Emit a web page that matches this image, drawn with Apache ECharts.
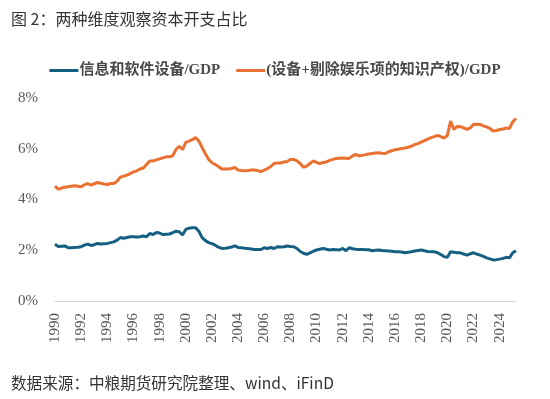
<!DOCTYPE html>
<html>
<head>
<meta charset="utf-8">
<script src="https://cdn.jsdelivr.net/npm/echarts@6/dist/echarts.min.js"></script>
<style>
html, body { margin: 0; padding: 0; background: #ffffff; }
#CapexChart { width: 550px; height: 399px; }
</style>
</head>
<body>
<div id="CapexChart"></div>
<script>
// quarterly, 1990Q1 .. 2025Q2, values in % of GDP
var startYear = 1990;
var pointCount = 142;

var infoSoftware = [
    2.24, 2.15, 2.16, 2.17,  2.10, 2.10, 2.11, 2.12,  2.14, 2.20, 2.24, 2.19,
    2.22, 2.27, 2.25, 2.26,  2.27, 2.30, 2.33, 2.40,  2.50, 2.47, 2.50, 2.53,
    2.53, 2.52, 2.53, 2.56,  2.53, 2.66, 2.62, 2.70,  2.68, 2.62, 2.63, 2.64,
    2.69, 2.75, 2.73, 2.60,  2.82, 2.87, 2.89, 2.89,  2.75, 2.50, 2.38, 2.30,
    2.26, 2.20, 2.12, 2.07,  2.08, 2.10, 2.13, 2.17,  2.11, 2.10, 2.08, 2.07,
    2.05, 2.03, 2.03, 2.03,  2.10, 2.07, 2.11, 2.07,  2.14, 2.13, 2.14, 2.17,
    2.15, 2.14, 2.07, 1.95,  1.88, 1.84, 1.90, 1.96,  2.01, 2.04, 2.07, 2.04,
    2.01, 2.03, 2.02, 2.01,  2.07, 1.98, 2.10, 2.06,  2.04, 2.03, 2.03, 2.02,
    2.02, 1.98, 2.00, 2.01,  1.99, 1.98, 1.97, 1.96,  1.94, 1.94, 1.93, 1.90,
    1.92, 1.94, 1.97, 1.99,  2.01, 1.98, 1.95, 1.94,  1.94, 1.90, 1.83, 1.75,
    1.72, 1.94, 1.92, 1.90,  1.90, 1.85, 1.81, 1.86,  1.90, 1.85, 1.81, 1.76,
    1.70, 1.66, 1.62, 1.63,  1.65, 1.68, 1.72, 1.70,  1.90, 1.98
];

var equipIP = [
    4.53, 4.41, 4.45, 4.48,  4.50, 4.52, 4.54, 4.52,  4.50, 4.58, 4.63, 4.57,
    4.62, 4.67, 4.64, 4.61,  4.59, 4.63, 4.63, 4.72,  4.88, 4.92, 4.96, 5.02,
    5.09, 5.13, 5.20, 5.24,  5.38, 5.52, 5.52, 5.56,  5.60, 5.64, 5.68, 5.68,
    5.72, 5.97, 6.10, 5.97,  6.25, 6.30, 6.36, 6.44,  6.30, 6.05, 5.80, 5.58,
    5.45, 5.38, 5.30, 5.20,  5.20, 5.20, 5.22, 5.26,  5.16, 5.14, 5.13, 5.14,
    5.16, 5.16, 5.14, 5.10,  5.16, 5.22, 5.30, 5.42,  5.44, 5.44, 5.48, 5.50,
    5.58, 5.58, 5.52, 5.42,  5.27, 5.32, 5.42, 5.52,  5.46, 5.42, 5.46, 5.48,
    5.54, 5.58, 5.62, 5.63,  5.64, 5.63, 5.62, 5.72,  5.78, 5.72, 5.74, 5.77,
    5.79, 5.81, 5.83, 5.84,  5.82, 5.81, 5.88, 5.92,  5.96, 5.98, 6.01, 6.03,
    6.06, 6.10, 6.16, 6.20,  6.26, 6.32, 6.38, 6.44,  6.48, 6.53, 6.48, 6.42,
    6.52, 7.09, 6.76, 6.88,  6.87, 6.82, 6.76, 6.82,  6.96, 6.97, 6.96, 6.90,
    6.86, 6.80, 6.70, 6.72,  6.76, 6.78, 6.82, 6.80,  7.06, 7.19
];

var seriesNames = ['信息和软件设备/GDP', '(设备+剔除娱乐项的知识产权)/GDP'];
var yTicks = [0, 2, 4, 6, 8];

var quarters = [];
for (var i = 0; i < pointCount; i++) {
    quarters.push((startYear + Math.floor(i / 4)) + 'Q' + (i % 4 + 1));
}

var serifFont = 'Liberation Serif';
var CapexChart = echarts.init(document.getElementById('CapexChart'), null, {renderer: 'canvas'});

var option = {
    animation: false,
    backgroundColor: '#ffffff',
    title: [{
        text: '图 2：两种维度观察资本开支占比',
        left: 6,
        top: 6,
        textStyle: {
            fontFamily: 'Noto Sans CJK SC',
            fontSize: 16,
            fontWeight: 'normal',
            color: '#333333'
        }
    }, {
        text: '数据来源：中粮期货研究院整理、wind、iFinD',
        left: 6,
        top: 370,
        textStyle: {
            fontFamily: 'Noto Sans CJK SC',
            fontSize: 15.6,
            fontWeight: 'normal',
            color: '#333333'
        }
    }],
    legend: {
        data: seriesNames,
        left: 'center',
        top: 58,
        icon: 'rect',
        itemWidth: 29,
        itemHeight: 3,
        itemGap: 16,
        textStyle: {
            fontFamily: '"Liberation Serif", "Noto Sans CJK SC", serif',
            fontSize: 15,
            fontWeight: 'bold',
            color: '#4a4a4a',
            padding: [0, 0, 0, -4]
        }
    },
    grid: {
        left: 55,
        right: 34,
        top: 98,
        bottom: 98,
        containLabel: false
    },
    xAxis: {
        type: 'category',
        boundaryGap: false,
        data: quarters,
        axisLine: { lineStyle: { color: '#d9d9d9', width: 1 } },
        axisTick: { show: false },
        axisLabel: {
            interval: 7,
            rotate: 90,
            margin: 12,
            fontFamily: serifFont,
            fontSize: 15,
            color: '#595959',
            formatter: function (v) { return v.substring(0, 4); }
        },
        splitLine: { show: false }
    },
    yAxis: {
        type: 'value',
        min: yTicks[0],
        max: yTicks[yTicks.length - 1],
        interval: 2,
        axisLine: { show: false },
        axisTick: { show: false },
        splitLine: { show: false },
        axisLabel: {
            margin: 17,
            fontFamily: serifFont,
            fontSize: 15,
            color: '#595959',
            formatter: '{value}%'
        }
    },
    series: [{
        name: seriesNames[0],
        type: 'line',
        data: infoSoftware,
        symbol: 'none',
        smooth: false,
        lineStyle: { color: '#156082', width: 3 },
        itemStyle: { color: '#156082' }
    }, {
        name: seriesNames[1],
        type: 'line',
        data: equipIP,
        symbol: 'none',
        smooth: false,
        lineStyle: { color: '#E97132', width: 3 },
        itemStyle: { color: '#E97132' }
    }]
};

CapexChart.setOption(option);
</script>
</body>
</html>
